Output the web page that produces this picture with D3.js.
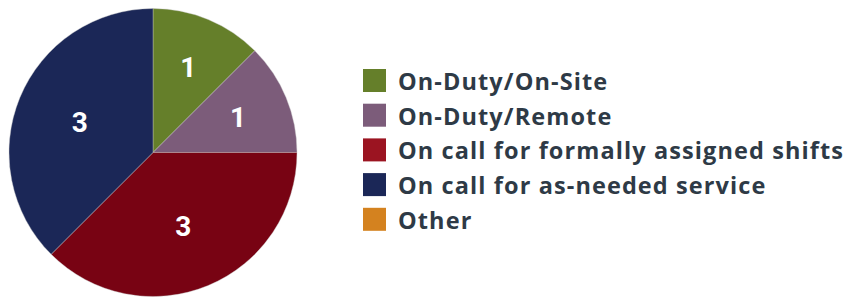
<!DOCTYPE html>
<html>
<head>
<meta charset="utf-8">
<script src="https://cdn.jsdelivr.net/npm/d3@7"></script>
<style>
  body { margin: 0; background: #fff; }
  svg { display: block; }
</style>
</head>
<body>
<svg width="848" height="297"></svg>
<script>
var categories = ['On-Duty/On-Site', 'On-Duty/Remote', 'On call for formally assigned shifts', 'On call for as-needed service', 'Other'];
var values = [1, 1, 3, 3, 0];
var sliceColors = ['#657f2a', '#7c5c7a', '#780313', '#1b2757', '#d4821f'];
var legendColors = ['#657f2a', '#7c5c7a', '#9b1421', '#1b2757', '#d4821f'];

var data = categories.map(function(c, i){
    return {name: c, value: values[i], color: sliceColors[i], legend: legendColors[i]};
});

var svg = d3.select('svg');

var cx = 153, cy = 152.5, radius = 144;

var pie = d3.pie()
    .sort(null)
    .value(function(d){ return d.value; });

var arc = d3.arc().innerRadius(0).outerRadius(radius);

// small slices get labels further out, like the original
function labelPos(d){
    var r = (d.endAngle - d.startAngle) < 1 ? radius * 0.64 : radius * 0.55;
    var a = (d.startAngle + d.endAngle) / 2;
    return [Math.sin(a) * r, -Math.cos(a) * r];
}

var g = svg.append('g').attr('transform', 'translate(' + cx + ',' + cy + ')');

var arcs = pie(data).filter(function(d){ return d.value > 0; });

g.selectAll('path')
    .data(arcs)
    .enter()
    .append('path')
    .attr('d', arc)
    .attr('fill', function(d){ return d.data.color; })
    .attr('stroke', '#c8c8c8')
    .attr('stroke-width', 0.4);

g.selectAll('text')
    .data(arcs)
    .enter()
    .append('text')
    .attr('transform', function(d){ return 'translate(' + labelPos(d) + ')'; })
    .attr('text-anchor', 'middle')
    .attr('dy', '0.36em')
    .attr('fill', '#ffffff')
    .style('font-family', 'Roboto, sans-serif')
    .style('font-weight', 700)
    .style('font-size', '28px')
    .text(function(d){ return d.data.value; });

// legend
var legendX = 363, legendY = 69, rowH = 34.7, box = 23;

var legend = svg.selectAll('.legend')
    .data(data)
    .enter()
    .append('g')
    .attr('class', 'legend')
    .attr('transform', function(d, i){ return 'translate(' + legendX + ',' + (legendY + i * rowH) + ')'; });

legend.append('rect')
    .attr('width', box)
    .attr('height', box)
    .attr('fill', function(d){ return d.legend; });

var labels = legend.append('text')
    .attr('x', 35)
    .attr('y', 21)
    .attr('fill', '#2e3a46')
    .style('font-family', '"Open Sans", sans-serif')
    .style('font-weight', 700)
    .style('font-size', '23.5px')
    .text(function(d){ return d.name; });

// stretch spacing so the longest label spans the same width as the original
var longest = labels.filter(function(d, i){ return i === 2; }).node();
var w = longest.getComputedTextLength();
var n = categories[2].length;
var ls = (445 - w) / (n - 1);
labels.style('letter-spacing', ls + 'px');
</script>
</body>
</html>
